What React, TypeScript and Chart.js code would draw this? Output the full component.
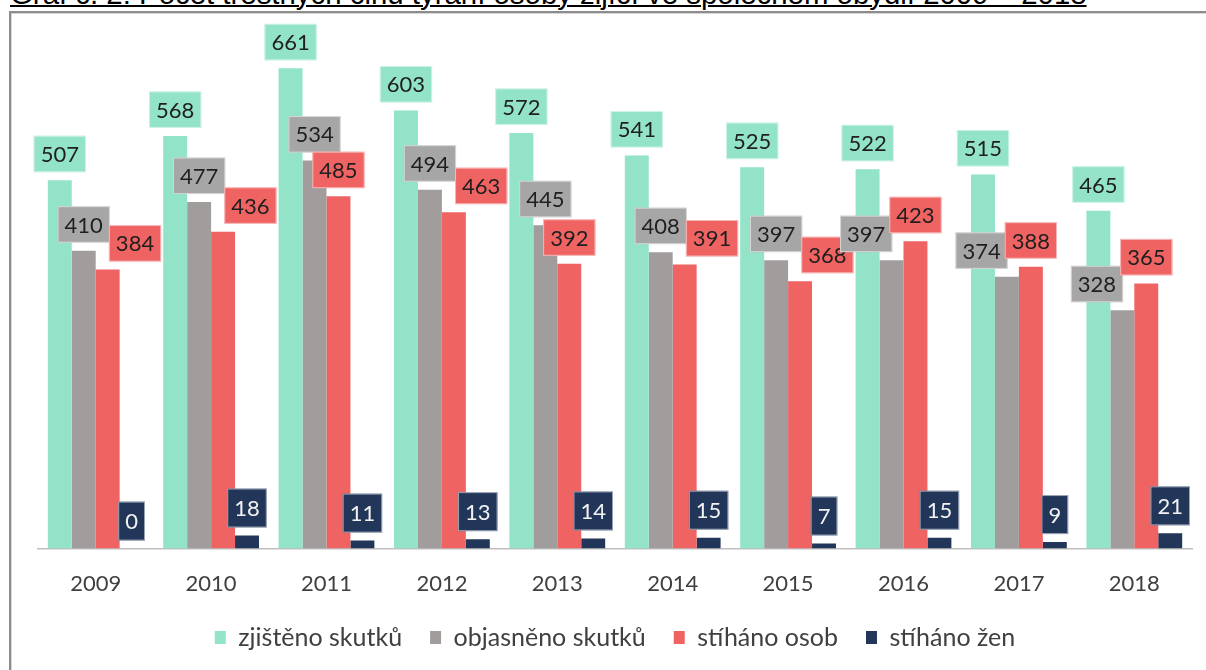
import React, { useEffect, useRef } from "react";
import { Chart, registerables } from "chart.js";

Chart.register(...registerables);

const years = ["2009", "2010", "2011", "2012", "2013", "2014", "2015", "2016", "2017", "2018"];
const zjistenoSkutku = [507, 568, 661, 603, 572, 541, 525, 522, 515, 465];
const objasnenoSkutku = [410, 477, 534, 494, 445, 408, 397, 397, 374, 328];
const stihanoOsob = [384, 436, 485, 463, 392, 391, 368, 423, 388, 365];
const stihanoZen = [0, 18, 11, 13, 14, 15, 7, 15, 9, 21];
const seriesNames = ["zjištěno skutků", "objasněno skutků", "stíháno osob", "stíháno žen"];

const barColors = ["#92E3C8", "#A09D9C", "#EF6363", "#223659"];
const labelBg = ["#92E3C8", "#A6A6A6", "#EF6363", "#223659"];
const labelFg = ["#1F1F1F", "#1F1F1F", "#1F1F1F", "#F2F2F2"];
const FONT = "Lato, 'Open Sans', sans-serif";

const boxLabels = {
  id: "boxLabels",
  afterDatasetsDraw(chart: any) {
    const ctx = chart.ctx;
    const n = chart.data.labels.length;
    ctx.save();
    ctx.font = `22px ${FONT}`;
    ctx.textAlign = "center";
    ctx.textBaseline = "middle";
    for (let i = 0; i < n; i++) {
      const boxes = chart.data.datasets.map((ds: any, d: number) => {
        const el = chart.getDatasetMeta(d).data[i];
        const text = String(ds.data[i]);
        const tw = ctx.measureText(text).width;
        const w = tw + 14;
        const h = d === 3 ? 39 : 36.5;
        const bottom = el.y - 8;
        return { x: el.x - w / 2, y: bottom - h, w, h, text, d };
      });
      const g = boxes[1];
      const r = boxes[2];
      const oy = Math.min(g.y + g.h, r.y + r.h) - Math.max(g.y, r.y);
      const ox = Math.min(g.x + g.w, r.x + r.w) - Math.max(g.x, r.x);
      if (oy > 6 && ox > 0) {
        if (r.y < g.y) g.x = r.x + 3 - g.w;
        else r.x = g.x + g.w - 1;
      }
      boxes.forEach((b: any) => {
        ctx.fillStyle = labelBg[b.d];
        ctx.fillRect(b.x, b.y, b.w, b.h);
        ctx.strokeStyle = "rgba(255,255,255,0.55)";
        ctx.lineWidth = 1;
        ctx.strokeRect(b.x + 0.5, b.y + 0.5, b.w - 1, b.h - 1);
        ctx.fillStyle = labelFg[b.d];
        ctx.fillText(b.text, b.x + b.w / 2, b.y + b.h / 2 + 1);
      });
    }
    ctx.restore();
  },
};

export default function App() {
  const canvasRef = useRef<HTMLCanvasElement | null>(null);

  useEffect(() => {
    const canvas = canvasRef.current;
    if (!canvas) return;
    const series = [zjistenoSkutku, objasnenoSkutku, stihanoOsob, stihanoZen];
    const chart = new Chart(canvas, {
      type: "bar",
      data: {
        labels: years,
        datasets: series.map((data, d) => ({
          label: seriesNames[d],
          data,
          backgroundColor: barColors[d],
          borderWidth: 0,
          categoryPercentage: 0.83,
          barPercentage: 1,
        })),
      },
      options: {
        responsive: false,
        animation: false,
        layout: { padding: { left: 38, right: 14, top: 40, bottom: 10 } },
        plugins: {
          legend: {
            position: "bottom",
            labels: {
              boxWidth: 11,
              boxHeight: 13,
              padding: 28,
              color: "#404040",
              font: { family: FONT, size: 25 },
            },
          },
          tooltip: { enabled: false },
        },
        scales: {
          x: {
            grid: {
              display: true,
              drawOnChartArea: false,
              drawTicks: true,
              tickLength: 22,
              tickColor: "rgba(0,0,0,0)",
            },
            border: { display: true, color: "#BFBFBF", width: 1.5 },
            ticks: { color: "#404040", font: { family: FONT, size: 22 }, padding: 0 },
          },
          y: { display: false, min: 0, max: 700 },
        },
      },
      plugins: [boxLabels],
    });
    return () => chart.destroy();
  }, []);

  return (
    <div
      style={{
        position: "fixed",
        left: 0,
        top: 0,
        width: 1206,
        height: 670,
        overflow: "hidden",
        background: "#fff",
      }}
    >
      <div
        style={{
          position: "absolute",
          left: 10,
          top: -22,
          fontFamily: "'Liberation Sans', Arial, sans-serif",
          fontSize: 29.4,
          lineHeight: "32px",
          whiteSpace: "nowrap",
          color: "#000",
          textDecoration: "underline",
          textDecorationThickness: 2,
        }}
      >
        Graf č. 2: Počet trestných činů týrání osoby žijící ve společném obydlí 2009 – 2018
      </div>
      <div
        style={{
          position: "absolute",
          left: 9,
          top: 11,
          width: 1400,
          height: 900,
          borderLeft: "2px solid #8C8C8C",
          borderTop: "2px solid #8C8C8C",
          boxShadow: "inset 1px 1px 0 #D6D6D6",
          background: "#fff",
        }}
      />
      <canvas
        ref={canvasRef}
        width={1206}
        height={670}
        style={{ position: "absolute", left: 0, top: 0, width: 1206, height: 670 }}
      />
    </div>
  );
}
